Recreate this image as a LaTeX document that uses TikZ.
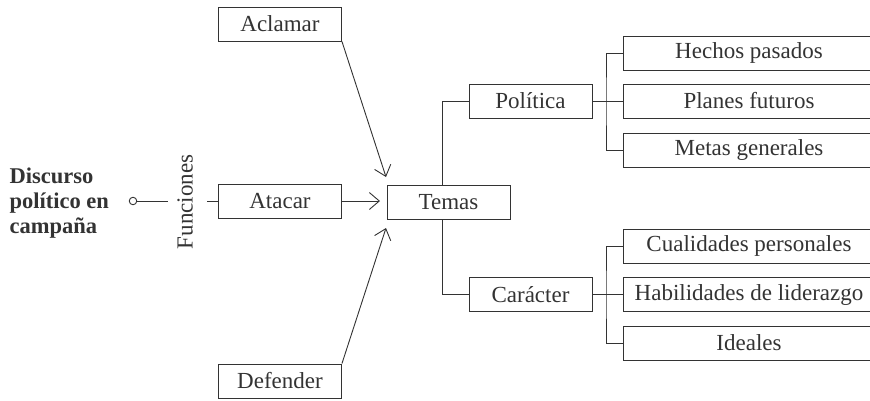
\documentclass[tikz,border=0pt]{standalone}
\usepackage{fontspec}
\setmainfont{Liberation Serif}
\usepackage{tikz}
\usetikzlibrary{arrows.meta,positioning}
\definecolor{ink}{HTML}{333333}

\begin{document}
\begin{tikzpicture}[
  x=1pt, y=-1pt,
  every node/.style={text=ink, font=\fontsize{23}{25}\selectfont},
  conn/.style={draw=ink, line width=0.9pt},
  arr/.style={conn, -{Straight Barb[length=10pt,width=17pt,line width=0.9pt]}},
  box/.style={draw=ink, line width=0.9pt, minimum width=123pt, minimum height=34pt, inner sep=0pt},
  leafbox/.style={box, minimum width=252pt}
]
\path[use as bounding box] (0,0) rectangle (870,400);
\clip (0,0) rectangle (870,400);

\node[anchor=west, align=left, font=\fontsize{22.5}{25}\selectfont\bfseries] (discurso) at (6,203) {Discurso\\político en\\campaña};
\node[draw=ink, line width=0.9pt, circle, minimum size=7.5pt, inner sep=0pt] (origen) at (133,201) {};
\node[rotate=90] (funciones) at (185,202) {Funciones};
\coordinate (f1) at (168,201);
\coordinate (f2) at (207,201);

\node[box] (aclamar) at (280,24) {Aclamar};
\node[box] (atacar) at (280,201) {Atacar};
\node[box] (defender) at (280,381) {Defender};
\node[box] (temas) at (448.5,202) {Temas};

\coordinate (tipA) at (386,177);
\coordinate (tipB) at (380,201);
\coordinate (tipC) at (386,228);

\node[box] (politica) at (530.5,101) {Política};
\node[box] (caracter) at (530.5,294.5) {Carácter};

\node[leafbox] (hechos) at (749,53) {Hechos pasados};
\node[leafbox] (planes) at (749,101) {Planes futuros};
\node[leafbox] (metas) at (749,150) {Metas generales};
\node[leafbox] (cualidades) at (749,246) {Cualidades personales};
\node[leafbox] (habilidades) at (749,294.5) {Habilidades de liderazgo};
\node[leafbox] (ideales) at (749,343) {Ideales};

\coordinate (pb) at (606,101);
\coordinate (cb) at (606,294.5);

\draw[conn] (origen.east) -- (f1);
\draw[conn] (f2) -- (atacar.west);
\draw[arr] (aclamar.south east) -- (tipA);
\draw[arr] (atacar.east) -- (tipB);
\draw[arr] (defender.north east) -- (tipC);

\draw[conn] ([xshift=-6.5pt]temas.north) |- (politica.west);
\draw[conn] ([xshift=-6.5pt]temas.south) |- (caracter.west);

\draw[conn] (politica.east) -- (planes.west);
\draw[conn] (hechos.west) -| (pb) |- (metas.west);
\draw[conn] (caracter.east) -- (habilidades.west);
\draw[conn] (cualidades.west) -| (cb) |- (ideales.west);
\end{tikzpicture}
\end{document}
